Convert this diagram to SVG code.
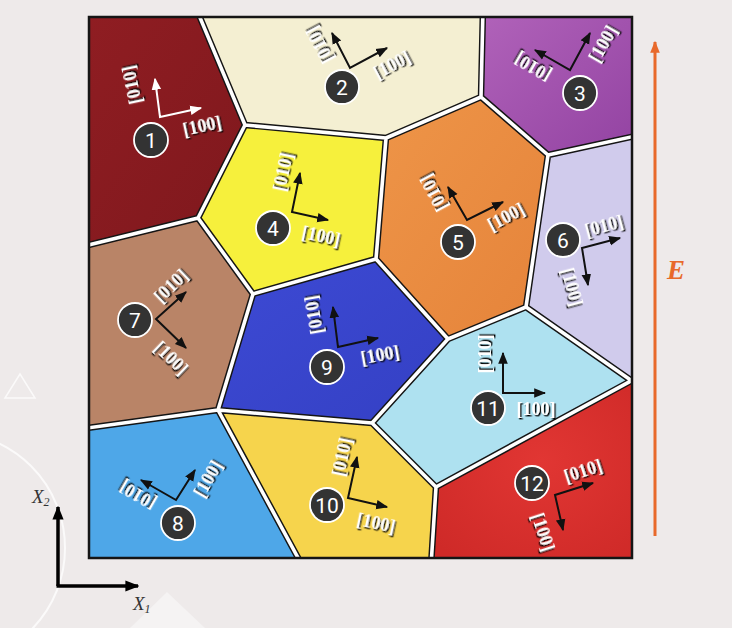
<svg xmlns="http://www.w3.org/2000/svg" width="732" height="628" viewBox="0 0 732 628">
<style>
.lbl{font-family:"Liberation Serif",serif;font-weight:bold;font-size:18px;fill:#fff;text-anchor:middle;filter:url(#sh)}
.num{font-family:Roboto,"Liberation Sans",sans-serif;font-size:21px;fill:#fff;text-anchor:middle}
.badge{fill:#333;stroke:#fff;stroke-width:1.8}
.ax{stroke:#111;stroke-width:2;fill:none;marker-end:url(#ah);marker-start:url(#ah)}
.axw{stroke:#fff;stroke-width:2;fill:none;marker-end:url(#ahw);marker-start:url(#ahw)}
.gb{fill:none;stroke-linejoin:round}
</style>
<defs>
<filter id="sh" x="-30%" y="-30%" width="160%" height="160%">
<feDropShadow dx="1.4" dy="1.4" stdDeviation="0.5" flood-color="#000" flood-opacity="1"/>
</filter>
<marker id="ah" viewBox="0 0 10 10" refX="9" refY="5" markerWidth="6" markerHeight="6" orient="auto-start-reverse"><path d="M0,1 L10,5 L0,9 Z" fill="#111"/></marker>
<marker id="ahw" viewBox="0 0 10 10" refX="9" refY="5" markerWidth="6" markerHeight="6" orient="auto-start-reverse"><path d="M0,1 L10,5 L0,9 Z" fill="#fff"/></marker>
<marker id="ahb" viewBox="0 0 10 10" refX="9" refY="5" markerWidth="4" markerHeight="4" orient="auto"><path d="M0,1 L10,5 L0,9 Z" fill="#000"/></marker>
<marker id="ahe" viewBox="0 0 10 10" refX="9" refY="5" markerWidth="4" markerHeight="4" orient="auto"><path d="M0,1 L10,5 L0,9 Z" fill="#e8692b"/></marker>
<clipPath id="frame"><rect x="89" y="17" width="543" height="541"/></clipPath>
<linearGradient id="g1" x1="0" y1="0" x2="1" y2="1"><stop offset="0" stop-color="#8f1d22"/><stop offset="1" stop-color="#7f181d"/></linearGradient>
<linearGradient id="g3" x1="0" y1="0" x2="1" y2="1"><stop offset="0" stop-color="#b062b9"/><stop offset="1" stop-color="#9343a2"/></linearGradient>
<linearGradient id="g5" x1="0" y1="0" x2="1" y2="1"><stop offset="0" stop-color="#ee9548"/><stop offset="1" stop-color="#e5833a"/></linearGradient>
<linearGradient id="g9" x1="0" y1="0" x2="1" y2="1"><stop offset="0" stop-color="#3d4ad4"/><stop offset="1" stop-color="#3440c4"/></linearGradient>
<radialGradient id="g12" cx="0.55" cy="0.45" r="0.7"><stop offset="0" stop-color="#e13633"/><stop offset="1" stop-color="#cf2a28"/></radialGradient>
</defs>
<rect width="732" height="628" fill="#eeeaea"/>
<circle cx="-51" cy="548" r="116" fill="none" stroke="#fbfafa" stroke-width="2"/>
<path d="M5,398 L20,374 L35,398 Z" fill="none" stroke="#fbfafa" stroke-width="1.5"/>
<path d="M130,628 L167,592 L205,628 Z" fill="#f5f3f3"/>

<g id="grains">
<g id="grain1"><polygon points="89,17 200,17 245,125 198,218 89,245" fill="url(#g1)"/></g>
<g id="grain2"><polygon points="200,17 483,17 481,97 386,138 245,125" fill="#f4efd2"/></g>
<g id="grain3"><polygon points="483,17 632,17 632,137 548,155 481,97" fill="url(#g3)"/></g>
<g id="grain4"><polygon points="245,125 386,138 376,259 253,294 198,218" fill="#f6f03c"/></g>
<g id="grain5"><polygon points="386,138 481,97 548,155 526,307 448,339 376,259" fill="url(#g5)"/></g>
<g id="grain6"><polygon points="548,155 632,137 632,381 526,307" fill="#d0cbec"/></g>
<g id="grain7"><polygon points="89,245 198,218 253,294 218,410 89,428" fill="#b98467"/></g>
<g id="grain8"><polygon points="89,428 218,410 298,558 89,558" fill="#4ea7e8"/></g>
<g id="grain9"><polygon points="253,294 376,259 448,339 372,423 218,410" fill="url(#g9)"/></g>
<g id="grain10"><polygon points="218,410 372,423 436,487 431,558 298,558" fill="#f6d44c"/></g>
<g id="grain11"><polygon points="448,339 526,307 632,381 436,487 372,423" fill="#aee1f0"/></g>
<g id="grain12"><polygon points="632,381 632,558 431,558 436,487" fill="url(#g12)"/></g>
</g>

<g id="connectors">
<g clip-path="url(#frame)">
<path class="gb" stroke="#151515" stroke-width="6.5" d="M196,8 L245,125 L198,218 L80,247 M245,125 L386,138 L481,97 L483,8 M481,97 L548,155 L640,135 M548,155 L526,307 L448,339 L376,259 L386,138 M376,259 L253,294 L198,218 M253,294 L218,410 L80,429 M218,410 L372,423 L448,339 M372,423 L436,487 L640,376 M632,381 L526,307 M436,487 L431,566 M218,410 L303,567"/>
<path class="gb" stroke="#fff" stroke-width="3.6" d="M196,8 L245,125 L198,218 L80,247 M245,125 L386,138 L481,97 L483,8 M481,97 L548,155 L640,135 M548,155 L526,307 L448,339 L376,259 L386,138 M376,259 L253,294 L198,218 M253,294 L218,410 L80,429 M218,410 L372,423 L448,339 M372,423 L436,487 L640,376 M632,381 L526,307 M436,487 L431,566 M218,410 L303,567"/>
</g>
<rect x="89" y="17" width="543" height="541" fill="none" stroke="#151515" stroke-width="2.5"/>

<path class="axw" d="M201,108 L160,117 L155,79"/>
<path class="ax" d="M387,48 L350,68 L332,33"/>
<path class="ax" d="M590,33 L570,70 L535,50"/>
<path class="ax" d="M328,220 L292,212 L300,173"/>
<path class="ax" d="M503,202 L467,220 L448,187"/>
<path class="ax" d="M620,238 L582,248 L588,285"/>
<path class="ax" d="M186,292 L156,319 L186,348"/>
<path class="ax" d="M195,470 L176,500 L141,480"/>
<path class="ax" d="M378,338 L338,347 L333,307"/>
<path class="ax" d="M387,507 L348,498 L357,457"/>
<path class="ax" d="M545,393 L503,393 L503,353"/>
<path class="ax" d="M593,483 L555,495 L563,530"/>

<path d="M655,536 L655,42" stroke="#e8692b" stroke-width="3" fill="none" marker-end="url(#ahe)"/>
<path d="M58,586 L58,507" stroke="#000" stroke-width="3.5" fill="none" marker-end="url(#ahb)"/>
<path d="M56.5,586 L138,586" stroke="#000" stroke-width="3.5" fill="none" marker-end="url(#ahb)"/>
</g>

<g id="labels">
<text class="lbl" transform="translate(132,85) rotate(-102)" dy="6">[010]</text>
<text class="lbl" transform="translate(202,126) rotate(-12)" dy="6">[100]</text>
<text class="lbl" transform="translate(320,45) rotate(-118)" dy="6">[010]</text>
<text class="lbl" transform="translate(392,65) rotate(-28)" dy="6">[100]</text>
<text class="lbl" transform="translate(533,67) rotate(-150)" dy="6">[010]</text>
<text class="lbl" transform="translate(603,44) rotate(-60)" dy="6">[100]</text>
<text class="lbl" transform="translate(283,172) rotate(-78)" dy="6">[010]</text>
<text class="lbl" transform="translate(321,236) rotate(12)" dy="6">[100]</text>
<text class="lbl" transform="translate(434,193) rotate(-118)" dy="6">[010]</text>
<text class="lbl" transform="translate(506,217) rotate(-28)" dy="6">[100]</text>
<text class="lbl" transform="translate(604,226) rotate(-15)" dy="6">[010]</text>
<text class="lbl" transform="translate(572,287) rotate(75)" dy="6">[100]</text>
<text class="lbl" transform="translate(171,286) rotate(-44)" dy="6">[010]</text>
<text class="lbl" transform="translate(171,358) rotate(44)" dy="6">[100]</text>
<text class="lbl" transform="translate(138,495) rotate(-150)" dy="6">[010]</text>
<text class="lbl" transform="translate(208,479) rotate(-60)" dy="6">[100]</text>
<text class="lbl" transform="translate(314,315) rotate(-100)" dy="6">[010]</text>
<text class="lbl" transform="translate(380,355) rotate(-10)" dy="6">[100]</text>
<text class="lbl" transform="translate(342,457) rotate(-78)" dy="6">[010]</text>
<text class="lbl" transform="translate(376,523) rotate(12)" dy="6">[100]</text>
<text class="lbl" transform="translate(485,354) rotate(-90)" dy="6">[010]</text>
<text class="lbl" transform="translate(536,409)" dy="6">[100]</text>
<text class="lbl" transform="translate(583,471) rotate(-18)" dy="6">[010]</text>
<text class="lbl" transform="translate(543,532) rotate(72)" dy="6">[100]</text>
</g>

<g id="badges">
<g id="n1"><circle class="badge" cx="151" cy="140" r="17"/><text class="num" x="151" y="147.5">1</text></g>
<g id="n2"><circle class="badge" cx="342" cy="87" r="17"/><text class="num" x="342" y="94.5">2</text></g>
<g id="n3"><circle class="badge" cx="580" cy="93" r="17"/><text class="num" x="580" y="100.5">3</text></g>
<g id="n4"><circle class="badge" cx="273" cy="228" r="17"/><text class="num" x="273" y="235.5">4</text></g>
<g id="n5"><circle class="badge" cx="458" cy="242" r="17"/><text class="num" x="458" y="249.5">5</text></g>
<g id="n6"><circle class="badge" cx="563" cy="240" r="17"/><text class="num" x="563" y="247.5">6</text></g>
<g id="n7"><circle class="badge" cx="135" cy="320" r="17"/><text class="num" x="135" y="327.5">7</text></g>
<g id="n8"><circle class="badge" cx="178" cy="523" r="17"/><text class="num" x="178" y="530.5">8</text></g>
<g id="n9"><circle class="badge" cx="327" cy="367" r="17"/><text class="num" x="327" y="374.5">9</text></g>
<g id="n10"><circle class="badge" cx="327" cy="505" r="17"/><text class="num" x="327" y="512.5">10</text></g>
<g id="n11"><circle class="badge" cx="488" cy="408" r="17"/><text class="num" x="488" y="415.5">11</text></g>
<g id="n12"><circle class="badge" cx="532" cy="483" r="17"/><text class="num" x="532" y="490.5">12</text></g>
</g>

<g id="axes-labels">
<text x="676" y="279" font-family="Liberation Serif,serif" font-style="italic" font-weight="bold" font-size="27" fill="#e8692b" text-anchor="middle">E</text>
<text x="32" y="503" font-family="Liberation Serif,serif" font-style="italic" font-size="19" fill="#333">X<tspan font-size="12" dy="3">2</tspan></text>
<text x="133" y="610" font-family="Liberation Serif,serif" font-style="italic" font-size="19" fill="#333">X<tspan font-size="12" dy="3">1</tspan></text>
</g>
</svg>
